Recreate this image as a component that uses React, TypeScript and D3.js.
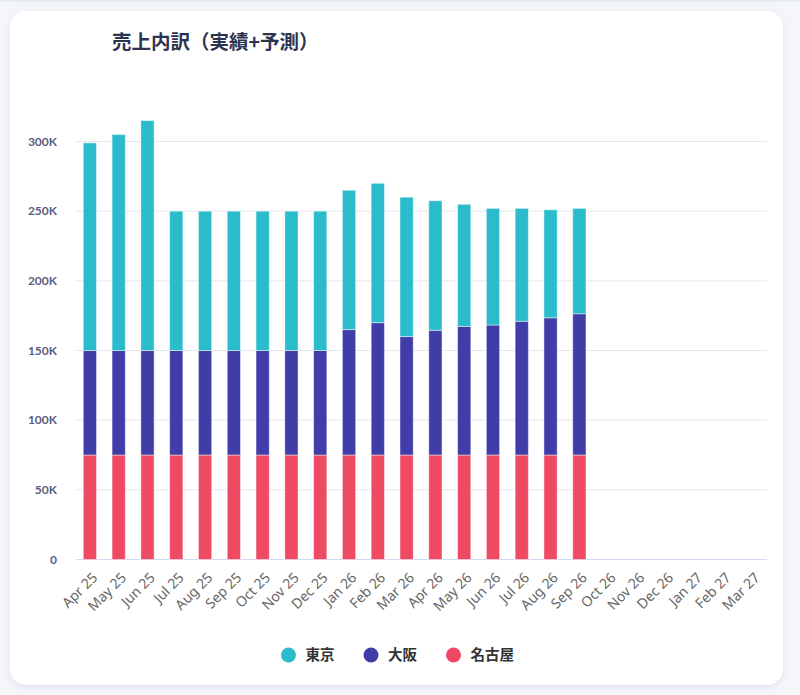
import React from "react";
import * as d3 from "d3";

const months = [
  "Apr 25", "May 25", "Jun 25", "Jul 25", "Aug 25", "Sep 25", "Oct 25", "Nov 25", "Dec 25",
  "Jan 26", "Feb 26", "Mar 26", "Apr 26", "May 26", "Jun 26", "Jul 26", "Aug 26", "Sep 26",
  "Oct 26", "Nov 26", "Dec 26", "Jan 27", "Feb 27", "Mar 27",
];
const nagoya = [75, 75, 75, 75, 75, 75, 75, 75, 75, 75, 75, 75, 75, 75, 75, 75, 75, 75];
const osaka = [75, 75, 75, 75, 75, 75, 75, 75, 75, 90, 95, 85, 89.5, 92.3, 93.3, 96, 98.5, 101.4];
const tokyo = [149, 155, 165, 100, 100, 100, 100, 100, 100, 100, 100, 100, 93, 87.6, 83.7, 81, 77.5, 75.6];
const yTicks = [0, 50, 100, 150, 200, 250, 300];

const seriesNames = ["名古屋", "大阪", "東京"];
const seriesColors = ["#ef4a63", "#413da8", "#2bbccb"];
const legendOrder = [2, 1, 0];

const W = 800;
const H = 695;

export default function App() {
  const x = d3.scaleBand<string>().domain(months).range([75.5, 766.5]).paddingInner(0.54).paddingOuter(0.27);
  const y = d3.scaleLinear().domain([0, 300]).range([559.5, 141.5]);

  const rows = nagoya.map((_, i) => ({ m: months[i], s0: nagoya[i], s1: osaka[i], s2: tokyo[i] }));
  const stack = d3.stack<any>().keys(["s0", "s1", "s2"])(rows);

  const legendX = [288.5, 371, 453.5];

  return (
    <div style={{ position: "absolute", left: 0, top: 0, width: W, height: H, background: "#f5f6fa" }}>
      <svg width={W} height={H} style={{ display: "block" }}>
        <defs>
          <filter id="sh" x="-5%" y="-5%" width="110%" height="110%">
            <feDropShadow dx="0" dy="2" stdDeviation="3" floodColor="#7a80a8" floodOpacity="0.18" />
          </filter>
        </defs>
        <rect x={0} y={0} width={W} height={2} fill="#e6eaf5" />
        <rect x={10} y={11} width={773} height={674} rx={16} fill="#ffffff" filter="url(#sh)" />
        <text x={112} y={49} fontFamily="'Noto Sans CJK JP', sans-serif" fontWeight={700} fontSize={19.5} fill="#2c3350">
          売上内訳（実績+予測）
        </text>
        {yTicks.map((t) => (
          <g key={t}>
            <line x1={76} x2={767} y1={y(t)} y2={y(t)} stroke={t === 0 ? "#d3d9ee" : "#e8e8ee"} strokeWidth={1} />
            <text x={57} y={y(t)} dy="0.35em" textAnchor="end" fontFamily="Lato, sans-serif" fontWeight={700} fontSize={12} fill="#5b5c82">
              {t === 0 ? "0" : `${t}K`}
            </text>
          </g>
        ))}
        {stack.map((layer, li) => (
          <g key={li}>
            {layer.map((d, i) => (
              <rect
                key={i}
                x={x(months[i])}
                width={x.bandwidth()}
                y={y(d[1])}
                height={y(d[0]) - y(d[1])}
                fill={seriesColors[li]}
                stroke="rgba(255,255,255,0.45)"
                strokeWidth={1}
              />
            ))}
          </g>
        ))}
        {months.map((m) => {
          const cx = (x(m) as number) + x.bandwidth() / 2;
          return (
            <text
              key={m}
              transform={`translate(${cx + 5},${575}) rotate(-45)`}
              textAnchor="end"
              dy="0.35em"
              fontFamily="'Noto Sans', sans-serif"
              fontSize={14}
              fill="#666666"
            >
              {m}
            </text>
          );
        })}
        {legendOrder.map((si, k) => (
          <g key={si}>
            <circle cx={legendX[k]} cy={655} r={7.5} fill={seriesColors[si]} />
            <text x={legendX[k] + 17} y={655} dy="0.36em" fontFamily="'Noto Sans CJK JP', sans-serif" fontWeight={700} fontSize={14.5} fill="#333333">
              {seriesNames[si]}
            </text>
          </g>
        ))}
      </svg>
    </div>
  );
}
